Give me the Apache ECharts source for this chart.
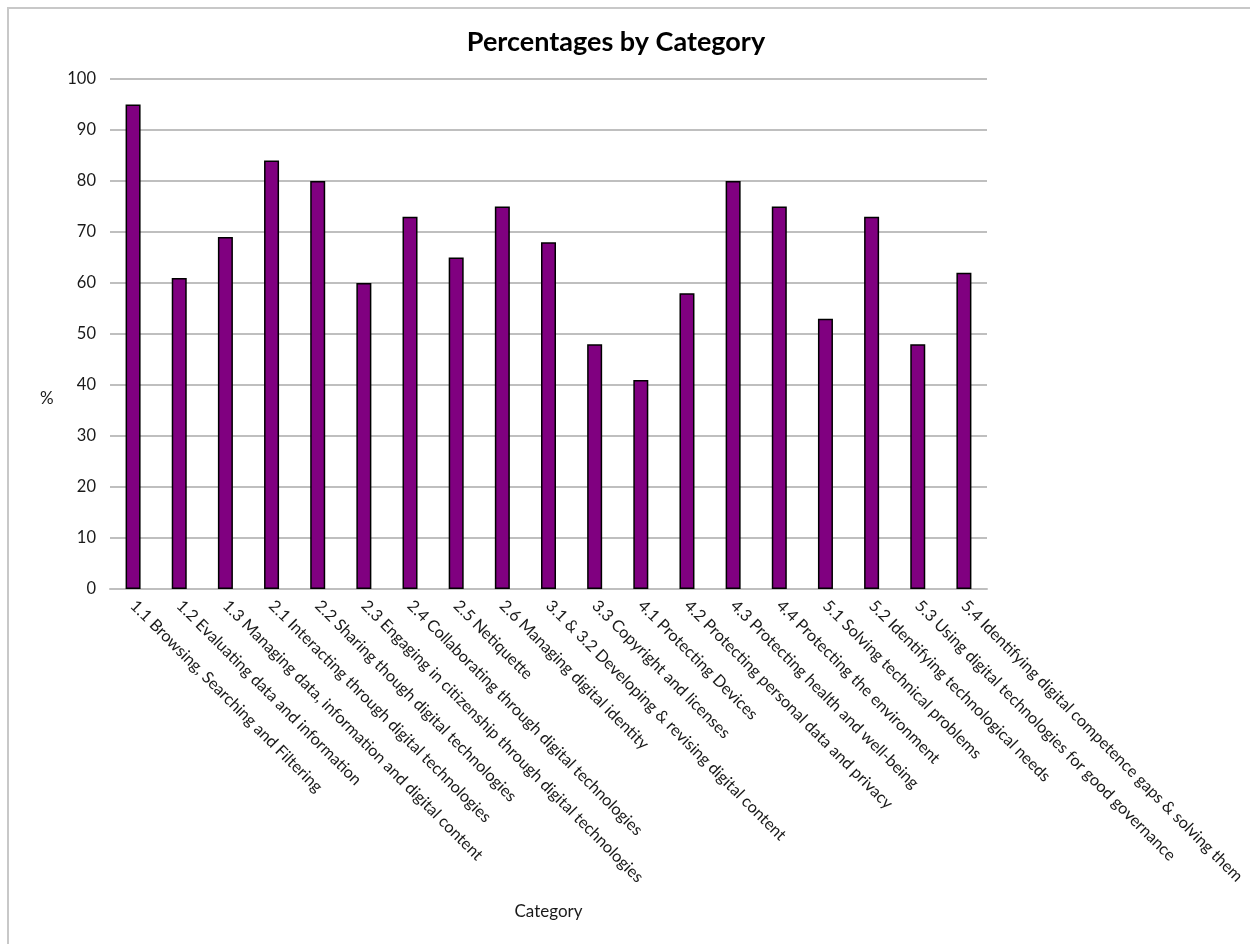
<!DOCTYPE html>
<html>
<head>
<meta charset="utf-8">
<script src="https://cdn.jsdelivr.net/npm/echarts@6/dist/echarts.min.js"></script>
<style>
html,body{margin:0;padding:0;background:#fff;}
#frame{position:absolute;left:7px;top:7px;width:1300px;height:1000px;border-left:2px solid #c8c8c8;border-top:2px solid #c8c8c8;}
#chart{position:absolute;left:0;top:0;width:1250px;height:944px;}
</style>
</head>
<body>
<div id="frame"></div>
<div id="chart"></div>
<script>
const categories = [
  "1.1 Browsing, Searching and Filtering",
  "1.2 Evaluating data and information",
  "1.3 Managing data, information and digital content",
  "2.1 Interacting through digital technologies",
  "2.2 Sharing though digital technologies",
  "2.3 Engaging in citizenship through digital technologies",
  "2.4 Collaborating through digital technologies",
  "2.5 Netiquette",
  "2.6 Managing digital identity",
  "3.1 & 3.2 Developing & revising digital content",
  "3.3 Copyright and licenses",
  "4.1 Protecting Devices",
  "4.2 Protecting personal data and privacy",
  "4.3 Protecting health and well-being",
  "4.4 Protecting the environment",
  "5.1 Solving technical problems",
  "5.2 Identifying technological needs",
  "5.3 Using digital technologies for good governance",
  "5.4 Identifying digital competence gaps & solving them"
];
const percentages = [95, 61, 69, 84, 80, 60, 73, 65, 75, 68, 48, 41, 58, 80, 75, 53, 73, 48, 62];
const titleText = "Percentages by Category";
const yName = "%";
const xName = "Category";

const font = "Lato, 'Open Sans', sans-serif";
const chart = echarts.init(document.getElementById('chart'), null, {renderer: 'canvas'});
chart.setOption({
  backgroundColor: 'transparent',
  animation: false,
  title: {
    text: titleText, left: 611, top: 24, textAlign: 'center',
    textStyle: {fontFamily: font, fontSize: 27, fontWeight: 'bold', color: '#000'}
  },
  grid: {left: 110, right: 263, top: 79, bottom: 355, containLabel: false},
  xAxis: {
    type: 'category', data: categories,
    name: xName, nameLocation: 'middle', nameGap: 314,
    nameTextStyle: {fontFamily: font, fontSize: 17, color: '#1a1a1a'},
    axisLine: {lineStyle: {color: '#bfbfbf', width: 2}},
    axisTick: {show: false},
    axisLabel: {rotate: -45, interval: 0, margin: 14, fontFamily: font, fontSize: 16.3, color: '#1a1a1a'}
  },
  yAxis: {
    type: 'value', min: 0, max: 100, interval: 10,
    axisLine: {show: false}, axisTick: {show: false},
    axisLabel: {fontFamily: font, fontSize: 16.5, color: '#1a1a1a', margin: 14},
    splitLine: {lineStyle: {color: '#bfbfbf', width: 2}}
  },
  graphic: [{
    type: 'text', left: 40, top: 390,
    style: {text: yName, font: "17px " + font, fill: '#1a1a1a'}
  }],
  series: [{
    type: 'bar', data: percentages, barWidth: 15,
    itemStyle: {color: '#800080', borderColor: '#000', borderWidth: 1.5}
  }]
});
</script>
</body>
</html>
